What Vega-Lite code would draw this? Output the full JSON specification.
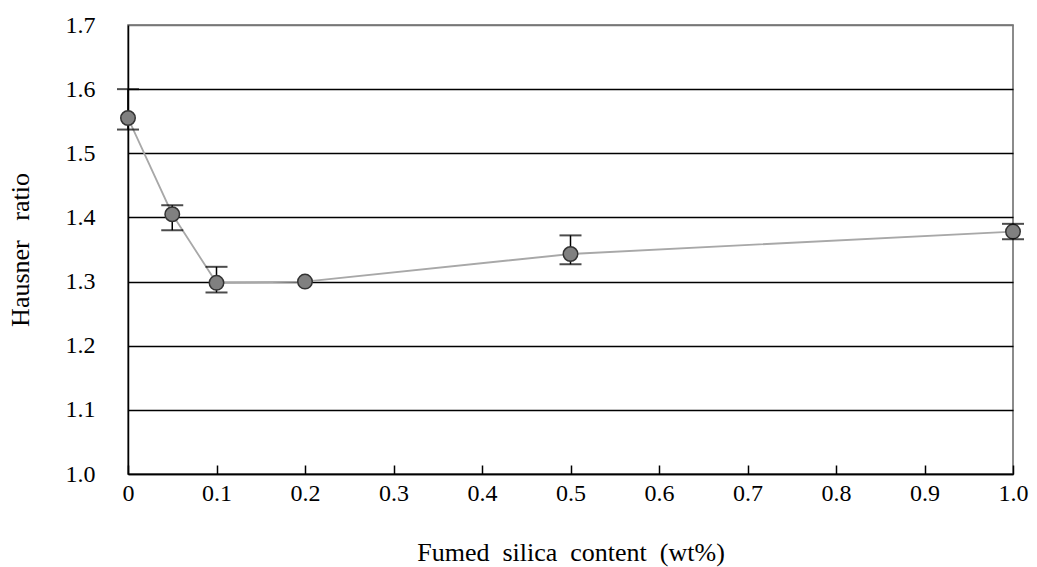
{
  "$schema": "https://vega.github.io/schema/vega-lite/v6.json",
  "width": 885,
  "height": 449,
  "autosize": {"type": "none"},
  "padding": {"left": 128, "top": 25, "right": 24, "bottom": 93},
  "background": "white",
  "config": {
    "view": {"stroke": "#666", "strokeWidth": 1.5},
    "font": "Liberation Serif",
    "axis": {
      "labelFont": "Liberation Serif",
      "titleFont": "Liberation Serif",
      "labelFontSize": 24,
      "titleFontSize": 26,
      "titleFontWeight": "normal",
      "labelColor": "black",
      "titleColor": "black",
      "domainColor": "black",
      "domainWidth": 1.5,
      "tickColor": "black"
    }
  },
  "data": {
    "values": [
      {"silica": 0, "hausner": 1.555, "lo": 1.537, "hi": 1.6},
      {"silica": 0.05, "hausner": 1.405, "lo": 1.38, "hi": 1.419},
      {"silica": 0.1, "hausner": 1.298, "lo": 1.283, "hi": 1.323},
      {"silica": 0.2, "hausner": 1.3, "lo": null, "hi": null},
      {"silica": 0.5, "hausner": 1.343, "lo": 1.327, "hi": 1.372},
      {"silica": 1.0, "hausner": 1.378, "lo": 1.366, "hi": 1.39}
    ]
  },
  "encoding": {
    "x": {
      "field": "silica",
      "type": "quantitative",
      "scale": {"domain": [0, 1], "nice": false, "zero": false},
      "axis": {
        "title": "Fumed\u00a0 silica\u00a0 content\u00a0 (wt%)",
        "values": [0, 0.1, 0.2, 0.3, 0.4, 0.5, 0.6, 0.7, 0.8, 0.9, 1.0],
        "labelExpr": "datum.value == 0 ? '0' : format(datum.value, '.1f')",
        "labelFlush": false,
        "grid": false,
        "tickSize": -9,
        "tickWidth": 1.5,
        "labelPadding": 16,
        "titlePadding": 34
      }
    },
    "y": {
      "field": "hausner",
      "type": "quantitative",
      "scale": {"domain": [1.0, 1.7], "nice": false, "zero": false},
      "axis": {
        "title": "Hausner\u00a0\u00a0 ratio",
        "values": [1.0, 1.1, 1.2, 1.3, 1.4, 1.5, 1.6, 1.7],
        "format": ".1f",
        "grid": true,
        "gridColor": {"condition": {"test": "datum.value >= 1.69", "value": "#777"}, "value": "black"},
        "gridWidth": 1.5,
        "ticks": false,
        "labelFlush": false,
        "labelPadding": 33,
        "titlePadding": 32
      }
    }
  },
  "layer": [
    {
      "mark": {"type": "line", "color": "#a8a8a8", "strokeWidth": 1.8}
    },
    {
      "transform": [{"filter": "datum.lo != null"}],
      "mark": {"type": "rule", "color": "black", "strokeWidth": 1.5},
      "encoding": {
        "y": {"field": "lo", "type": "quantitative"},
        "y2": {"field": "hi"}
      }
    },
    {
      "mark": {"type": "point", "filled": true, "fill": "#808080", "stroke": "#333", "strokeWidth": 1.5, "size": 210, "opacity": 1}
    },
    {
      "transform": [{"filter": "datum.lo != null"}],
      "mark": {"type": "tick", "orient": "horizontal", "color": "black", "size": 22, "thickness": 2},
      "encoding": {"y": {"field": "lo", "type": "quantitative"}}
    },
    {
      "transform": [{"filter": "datum.hi != null"}],
      "mark": {"type": "tick", "orient": "horizontal", "color": "black", "size": 22, "thickness": 2},
      "encoding": {"y": {"field": "hi", "type": "quantitative"}}
    }
  ]
}
